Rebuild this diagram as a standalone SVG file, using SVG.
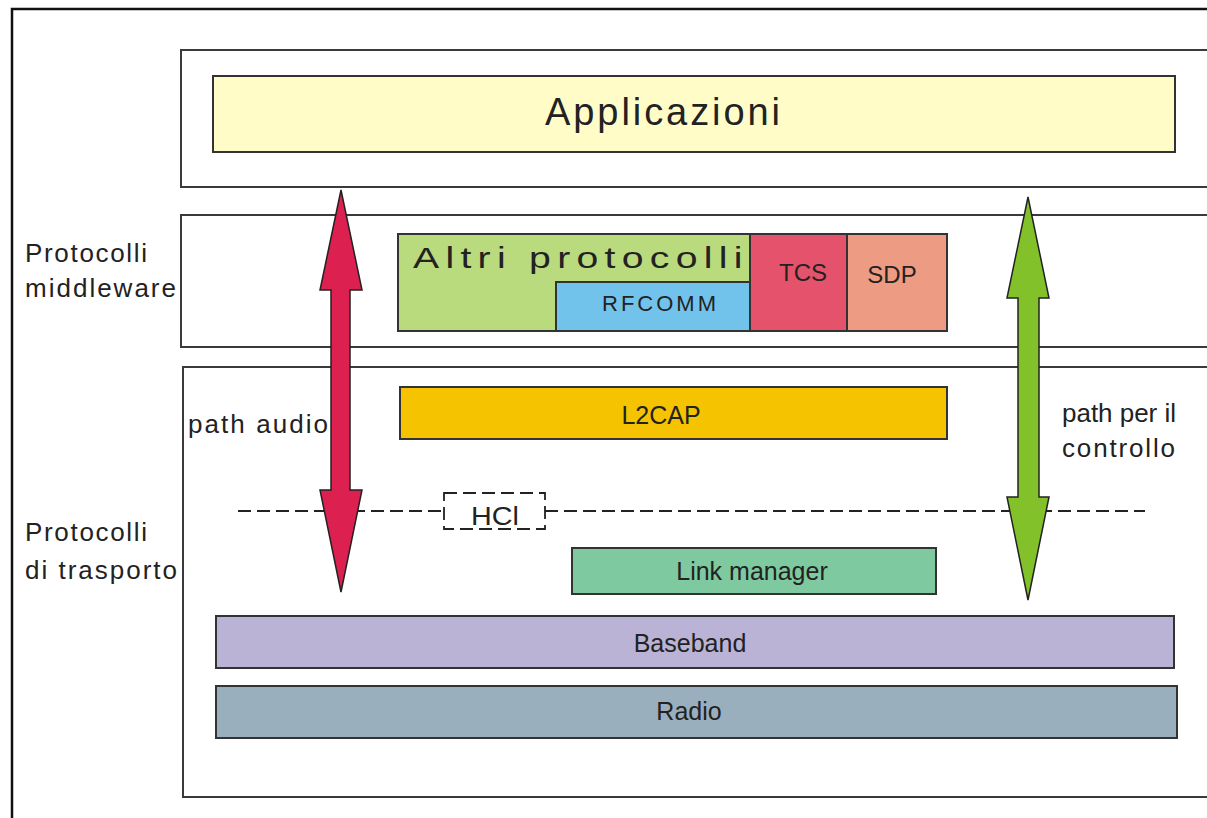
<svg xmlns="http://www.w3.org/2000/svg" width="1207" height="818" viewBox="0 0 1207 818">
<style>
.cont{fill:#fff;stroke:#3a3a3a;stroke-width:2}
.box{stroke:#333;stroke-width:2}
.t{font-family:"Liberation Sans",Arial,sans-serif;fill:#222}
.dash{stroke:#222;stroke-width:1.8;stroke-dasharray:13 6;fill:none}
.arrow{stroke:#222;stroke-width:1.5}
</style>
<rect x="0" y="0" width="1207" height="818" fill="#fff"/>
<path d="M12,818 V9 H1207" fill="none" stroke="#111" stroke-width="2.5"/>
<g id="containers">
<rect class="cont" x="181" y="50" width="1040" height="137"/>
<rect class="cont" x="181" y="215" width="1040" height="132"/>
<rect class="cont" x="183" y="367" width="1040" height="430"/>
</g>
<g id="applicazioni">
<rect class="box" x="213" y="76" width="962" height="76" fill="#fffcc8"/>
<text class="t" x="545" y="125" font-size="38" textLength="235" lengthAdjust="spacing">Applicazioni</text>
</g>
<g id="altri">
<rect class="box" x="398" y="234" width="352" height="97" fill="#bada7e"/>
<text class="t" transform="translate(413,268) scale(1.35,1)" x="0" y="0" font-size="29" textLength="244" lengthAdjust="spacing">Altri protocolli</text>
</g>
<g id="rfcomm">
<rect class="box" x="556" y="282" width="194" height="49" fill="#72c3ec"/>
<text class="t" x="659" y="311" font-size="22" text-anchor="middle" textLength="114" lengthAdjust="spacing">RFCOMM</text>
</g>
<g id="tcs">
<rect class="box" x="750" y="234" width="97" height="97" fill="#e4536b"/>
<text class="t" x="803" y="281" font-size="24" text-anchor="middle">TCS</text>
</g>
<g id="sdp">
<rect class="box" x="847" y="234" width="100" height="97" fill="#ee9b83"/>
<text class="t" x="892" y="283" font-size="24" text-anchor="middle">SDP</text>
</g>
<g id="l2cap">
<rect class="box" x="400" y="387" width="547" height="52" fill="#f6c300"/>
<text class="t" x="661" y="424" font-size="25" text-anchor="middle">L2CAP</text>
</g>
<g id="hci">
<line class="dash" x1="238" y1="511" x2="444" y2="511"/>
<line class="dash" x1="545" y1="511" x2="1145" y2="511"/>
<rect class="dash" x="444" y="493" width="101" height="36" fill="#fff"/>
<text class="t" transform="translate(471,525) scale(1.15,1)" x="0" y="0" font-size="25">HCl</text>
</g>
<g id="linkmanager">
<rect class="box" x="572" y="548" width="364" height="46" fill="#7ec9a0"/>
<text class="t" x="752" y="580" font-size="25" text-anchor="middle">Link manager</text>
</g>
<g id="baseband">
<rect class="box" x="216" y="616" width="958" height="52" fill="#bbb3d6"/>
<text class="t" x="690" y="652" font-size="25" text-anchor="middle">Baseband</text>
</g>
<g id="radio">
<rect class="box" x="216" y="686" width="961" height="52" fill="#9aafbd"/>
<text class="t" x="689" y="720" font-size="25" text-anchor="middle">Radio</text>
</g>
<g id="labels">
<text class="t" x="25" y="262" font-size="26" textLength="122" lengthAdjust="spacing">Protocolli</text>
<text class="t" x="25" y="297" font-size="26" textLength="151" lengthAdjust="spacing">middleware</text>
<text class="t" x="25" y="541" font-size="26" textLength="122" lengthAdjust="spacing">Protocolli</text>
<text class="t" x="25" y="579" font-size="26" textLength="152" lengthAdjust="spacing">di trasporto</text>
</g>
<g id="connectors">
<polygon class="arrow" fill="#dc2050" points="341,190 362,290 350,290 350,490 362,490 341,592 320,490 331,490 331,290 320,290"/>
<polygon class="arrow" fill="#82c12a" points="1028,197 1049,298 1039,298 1039,497 1049,497 1028,600 1007,497 1018,497 1018,298 1007,298"/>
<text class="t" x="188" y="433" font-size="26" textLength="140" lengthAdjust="spacing">path audio</text>
<text class="t" x="1062" y="422" font-size="26" textLength="114" lengthAdjust="spacing">path per il</text>
<text class="t" x="1062" y="457" font-size="26" textLength="113" lengthAdjust="spacing">controllo</text>
</g>
</svg>
